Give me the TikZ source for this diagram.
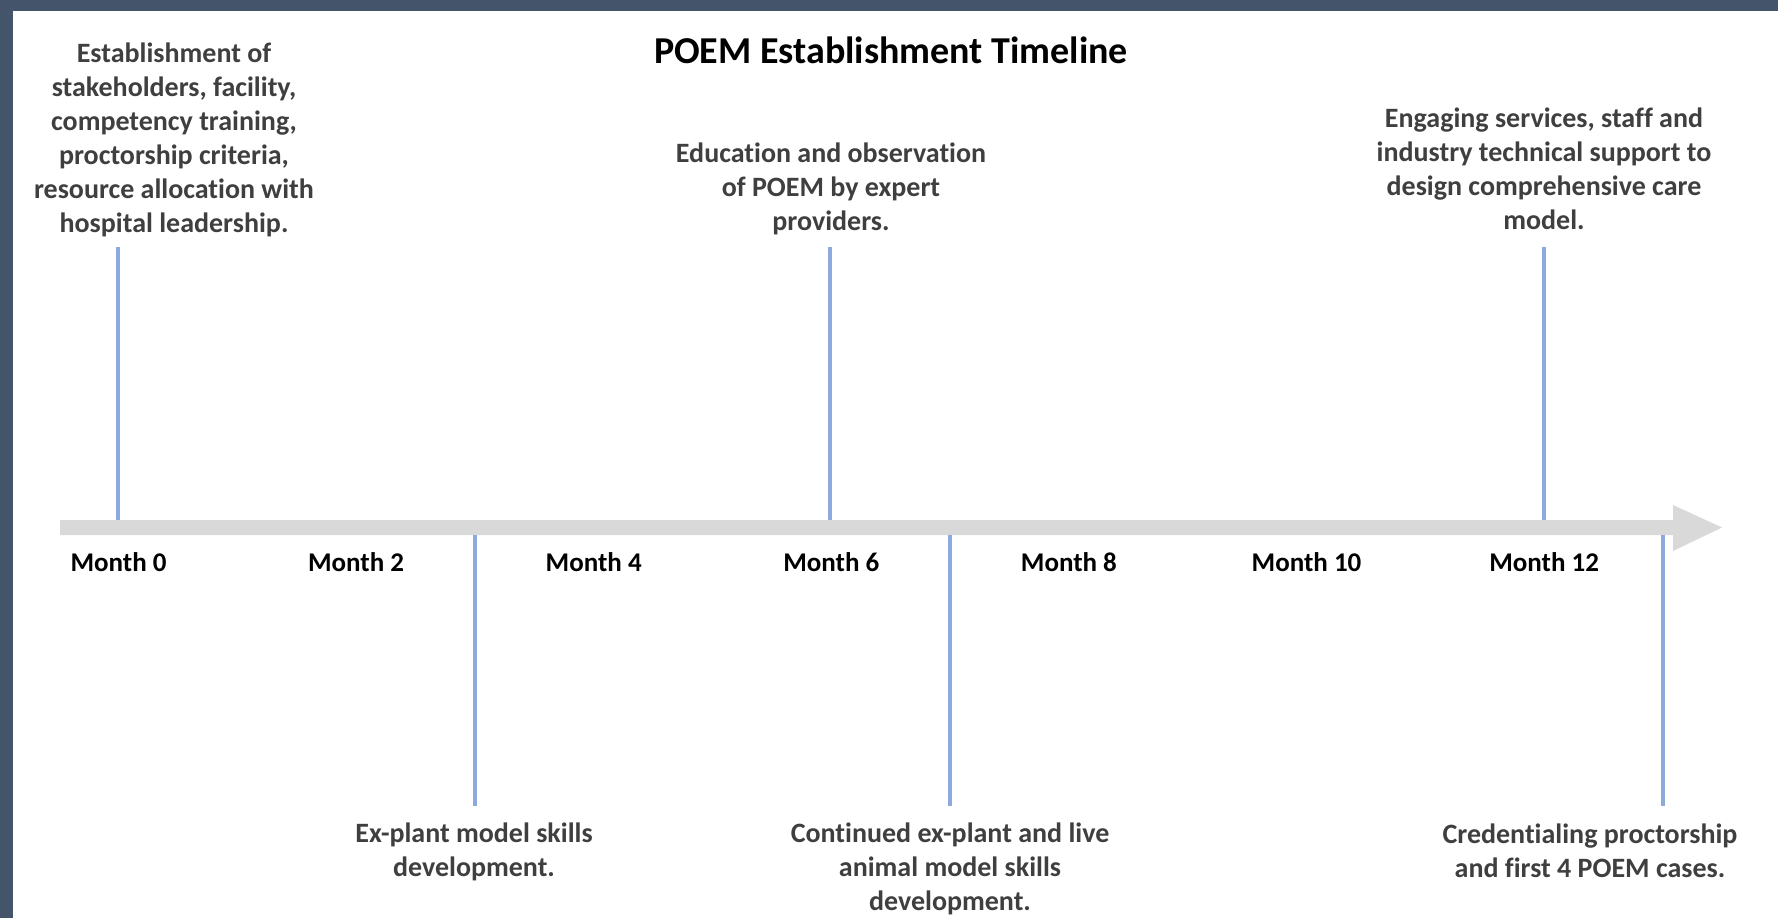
\documentclass[tikz,border=0pt]{standalone}
\usepackage{fontspec}
\setmainfont{Carlito}[Ligatures=NoCommon]
\definecolor{framecol}{HTML}{44546A}
\definecolor{axisgray}{HTML}{D9D9D9}
\definecolor{tickblue}{HTML}{8EA9DB}
\definecolor{descgray}{HTML}{3F3F3F}
\begin{document}
\begin{tikzpicture}[x=1pt,y=-1pt,
  desc/.style={font=\fontsize{28}{34}\selectfont\bfseries, text=descgray, align=center, inner sep=0pt, anchor=base},
  monthlbl/.style={font=\fontsize{27}{32}\selectfont\bfseries, text=black, inner sep=0pt, anchor=base},
  ticker/.style={draw=tickblue, line width=3.2pt}]
% canvas and frame
\fill[white] (0,0) rectangle (1778,918);
\useasboundingbox (0,0) rectangle (1778,918);
\fill[framecol] (0,0) rectangle (1778,11);
\fill[framecol] (0,0) rectangle (13,918);

% title
\node[font=\fontsize{38}{46}\selectfont\bfseries, text=black, inner sep=0pt, anchor=base] (title) at (891,63) {POEM Establishment Timeline};

% timeline arrow
\fill[axisgray] (60,520) -- (1673,520) -- (1673,505) -- (1722,527.5) -- (1673,551) -- (1673,535) -- (60,535) -- cycle;

% month labels
\foreach \m [count=\i from 0] in {0,2,4,6,8,10,12}
  \node[monthlbl] (m\m) at (118.5+237.6*\i,571) {Month \m};

% anchor points on the axis
\coordinate (a0t) at (118,247);   \coordinate (a0) at (118,520);
\coordinate (a6t) at (830,247);   \coordinate (a6) at (830,520);
\coordinate (a12t) at (1544,247); \coordinate (a12) at (1544,520);
\coordinate (b3) at (475,535);    \coordinate (b3e) at (475,806);
\coordinate (b7) at (950,535);    \coordinate (b7e) at (950,806);
\coordinate (b13) at (1663,535);  \coordinate (b13e) at (1663,806);

% milestone descriptions above the axis (placed by their last baseline)
\node[desc] (d1) at (174,232) {Establishment of\\stakeholders, facility,\\competency training,\\proctorship criteria,\\resource allocation with\\hospital leadership.};
\node[desc] (d2) at (831,230) {Education and observation\\of POEM by expert\\providers.};
\node[desc] (d3) at (1544,229) {Engaging services, staff and\\industry technical support to\\design comprehensive care\\model.};

% milestone descriptions below the axis
\node[desc] (d4) at (474,876) {Ex-plant model skills\\development.};
\node[desc] (d5) at (950,910) {Continued ex-plant and live\\animal model skills\\development.};
\node[desc] (d6) at (1590,877) {Credentialing proctorship\\and first 4 POEM cases.};

% milestone markers
\draw[ticker] (a0t) -- (a0);
\draw[ticker] (a6t) -- (a6);
\draw[ticker] (a12t) -- (a12);
\draw[ticker] (b3) -- (b3e);
\draw[ticker] (b7) -- (b7e);
\draw[ticker] (b13) -- (b13e);
\end{tikzpicture}
\end{document}
